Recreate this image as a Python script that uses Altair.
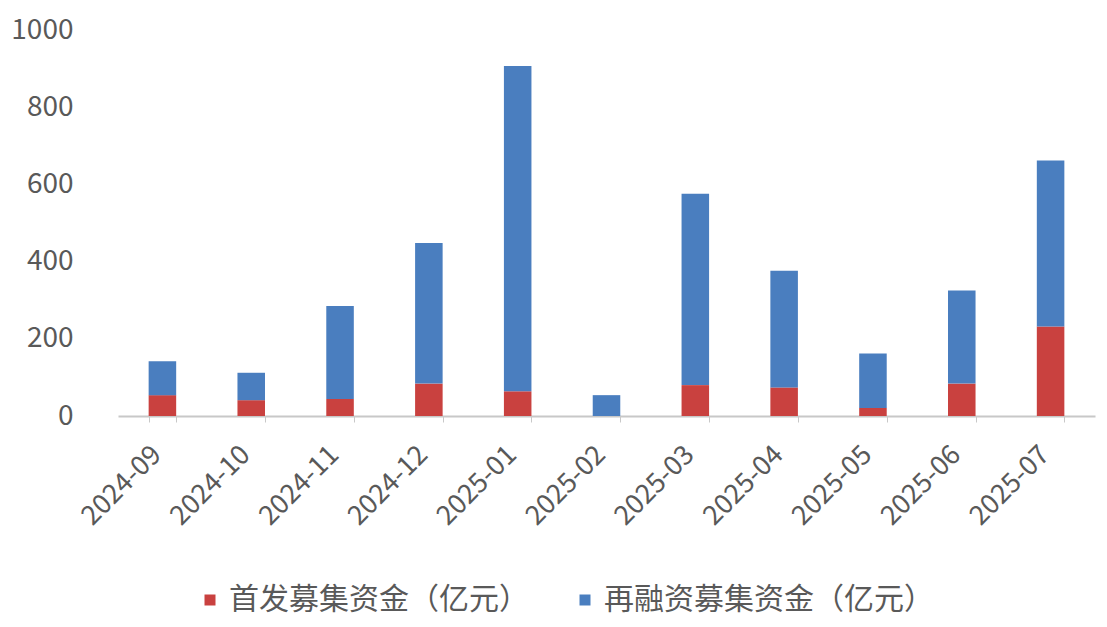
import altair as alt
import pandas as pd

months = ["2024-09", "2024-10", "2024-11", "2024-12", "2025-01", "2025-02",
          "2025-03", "2025-04", "2025-05", "2025-06", "2025-07"]
ipo = [54, 41, 44, 84, 64, 0, 80, 74, 21, 84, 232]
refi = [88, 71, 241, 364, 843, 54, 496, 302, 141, 241, 430]
series = ["首发募集资金（亿元）", "再融资募集资金（亿元）"]
colors = ["#C9413F", "#4A7EBF"]

rows = []
for m, a, b in zip(months, ipo, refi):
    rows.append({"month": m, "series": series[0], "value": a, "ord": 0})
    rows.append({"month": m, "series": series[1], "value": b, "ord": 1})
df = pd.DataFrame(rows)

FONT = "Noto Sans CJK SC"

chart = alt.Chart(df).mark_bar().encode(
    x=alt.X("month:N", sort=months, title=None,
            scale=alt.Scale(paddingInner=0.69, paddingOuter=0.345),
            axis=alt.Axis(labelAngle=-45, labelFontSize=27, labelColor="#595959",
                          labelFont=FONT, labelPadding=19, labelOffset=-15,
                          tickBand="extent",
                          tickSize=6, tickColor="#C8C8C8", domainColor="#C8C8C8",
                          domainWidth=2, labelAlign="right", labelBaseline="top")),
    y=alt.Y("value:Q", stack="zero", title=None,
            scale=alt.Scale(domain=[0, 1000]),
            axis=alt.Axis(values=[0, 200, 400, 600, 800, 1000], grid=False, format="d",
                          domain=False, ticks=False, labelFontSize=28,
                          labelColor="#595959", labelFont=FONT, labelPadding=45)),
    color=alt.Color("series:N", scale=alt.Scale(domain=series, range=colors),
                    legend=alt.Legend(title=None, orient="none", direction="horizontal",
                                      legendX=77, legendY=555, symbolType="square",
                                      symbolSize=121, labelFontSize=30, labelFont=FONT,
                                      labelColor="#595959", columnPadding=41,
                                      labelLimit=600, labelOffset=4)),
    order=alt.Order("ord:Q", sort="ascending"),
).properties(
    width=977, height=386,
    autosize=alt.AutoSizeParams(type="none"),
    padding={"left": 110, "top": 22, "right": 4, "bottom": 203},
).configure_view(stroke=None)

chart.save("out.html", embed_options={"renderer": "svg", "actions": False})
